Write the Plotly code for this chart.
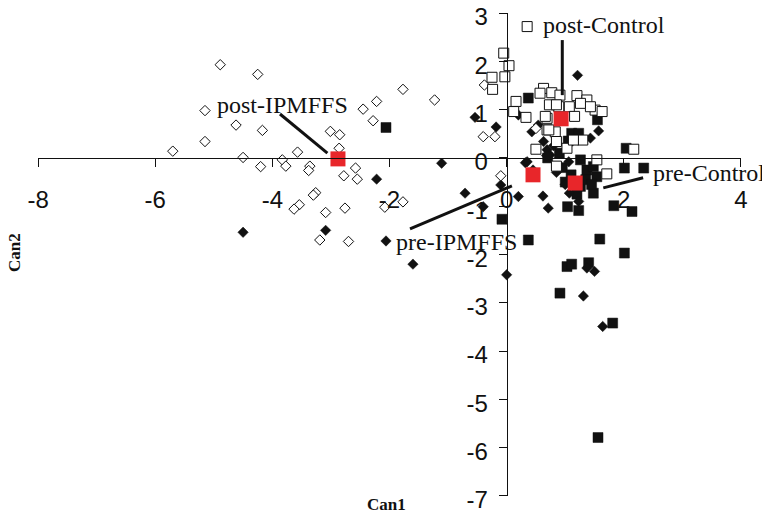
import plotly.graph_objects as go

# post-IPMFFS (open diamonds)
post_ipm_x = [-4.89, -4.25, -5.15, -4.62, -4.17, -5.15, -5.70, -4.50, -4.20, -3.83, -3.77, -3.57,
              -3.36, -3.38, -3.01, -2.85, -2.86, -2.58, -2.78, -2.55, -3.26, -3.30, -3.54, -3.63,
              -3.09, -2.76, -3.19, -2.70, -2.45, -2.22, -2.28, -2.08, -1.77, -1.77, -1.23, -0.38,
              -0.40, -0.20, -0.10, 0.50]
post_ipm_y = [1.93, 1.73, 0.98, 0.68, 0.57, 0.34, 0.14, 0.01, -0.18, -0.04, -0.17, 0.12,
              -0.17, -0.26, 0.55, 0.48, 0.20, -0.21, -0.37, -0.44, -0.72, -0.77, -0.97, -1.06,
              -1.13, -1.04, -1.70, -1.73, 1.01, 1.17, 0.77, -1.02, -0.91, 1.42, 1.20, 1.51,
              0.44, 0.44, -0.37, 0.61]

# pre-IPMFFS (filled diamonds)
pre_ipm_x = [-2.22, -4.50, -3.09, -2.06, -1.60, -1.11, -0.54, -0.18, 0.32, 0.20, 1.21, 1.57,
             0.43, 0.63, 1.43, 0.35, 0.69, 0.74, 1.06, 0.20, 0.62, 0.71, 1.23, 1.07, -0.10,
             -0.40, -0.71, 0.00, 1.37, 1.50, 1.31, 1.64, 0.54, 0.45, 0.85, 1.00, 0.80, 0.68]
pre_ipm_y = [-0.44, -1.54, -1.50, -1.72, -2.20, -0.11, 0.84, 0.64, -0.10, 0.89, 1.71, 0.56,
             0.54, 0.34, 0.41, -0.08, 0.17, 0.06, -0.08, -0.80, -0.79, -1.04, -0.90, -0.73, -0.56,
             -1.01, -0.73, -2.42, -2.28, -2.35, -2.86, -3.49, 0.68, -0.25, -0.30, -0.55, 0.25, 0.05]

# post-Control (open squares)
post_ctl_x = [0.35, -0.05, 0.04, -0.03, -0.25, -0.24, 0.16, 0.12, 0.33, 0.63, 0.57, 0.77,
              0.91, 0.89, 1.07, 0.69, 1.20, 1.37, 1.51, 1.63, 1.43, 0.73, 1.26, 1.16, 0.69,
              0.83, 0.85, 1.03, 1.30, 0.50, 1.54, 1.71, 2.17, 0.85, 0.66, 1.14, 0.85, 0.72]
post_ctl_y = [2.72, 2.17, 1.91, 1.68, 1.67, 1.42, 1.17, 0.96, 0.84, 1.44, 1.34, 1.35,
              1.30, 1.06, 1.06, 0.82, 1.29, 1.20, 0.99, 0.96, 1.06, 1.10, 1.13, 0.86, 0.58,
              0.54, 0.34, 0.20, 0.37, 0.18, -0.04, -0.33, 0.18, -0.17, 0.86, 0.37, 1.10, 0.58]

# pre-Control (filled squares)
pre_ctl_x = [-2.06, 0.37, 1.55, 1.11, 1.23, 1.26, 1.37, 1.48, 1.54, 2.01, 2.34, 1.48, 1.26,
             1.04, 1.23, 1.83, 2.14, -0.08, 0.37, 1.59, 2.01, 1.03, 1.11, 1.40, 0.91, 1.81,
             1.56, 2.04, 0.95, 1.10, 1.20, 1.35, 0.70, 0.90, 1.05, 1.45, 1.00]
pre_ctl_y = [0.63, 1.24, 0.79, 0.51, 0.51, -0.04, -0.25, -0.18, -0.39, -0.21, -0.21, -0.73, -0.59,
             -1.01, -1.09, -0.99, -1.11, -1.27, -1.70, -1.68, -1.97, -2.25, -2.20, -2.17, -2.80, -3.42,
             -5.79, 0.20, -0.20, -0.35, -0.75, -0.45, 0.00, 0.10, 0.35, -0.55, -0.50]

# group centroids (red squares)
cent_names = ["post-IPMFFS", "pre-IPMFFS", "pre-Control", "post-Control"]
cent_x = [-2.88, 0.45, 1.17, 0.93]
cent_y = [-0.02, -0.35, -0.52, 0.81]

x_ticks = [-8, -6, -4, -2, 0, 2, 4]
y_ticks = [3, 2, 1, 0, -1, -2, -3, -4, -5, -6, -7]

fig = go.Figure()

fig.add_trace(go.Scatter(x=pre_ctl_x, y=pre_ctl_y, mode="markers", name="pre-Control",
                         marker=dict(symbol="square", size=10, color="#111111",
                                     line=dict(color="#111111", width=0.5))))
fig.add_trace(go.Scatter(x=pre_ipm_x, y=pre_ipm_y, mode="markers", name="pre-IPMFFS",
                         marker=dict(symbol="diamond", size=8, color="#111111",
                                     line=dict(color="#111111", width=0.5))))
fig.add_trace(go.Scatter(x=post_ipm_x, y=post_ipm_y, mode="markers", name="post-IPMFFS",
                         marker=dict(symbol="diamond", size=8, color="white",
                                     line=dict(color="#111111", width=1))))
fig.add_trace(go.Scatter(x=post_ctl_x, y=post_ctl_y, mode="markers", name="post-Control",
                         marker=dict(symbol="square", size=10, color="white",
                                     line=dict(color="#111111", width=1))))
fig.add_trace(go.Scatter(x=cent_x, y=cent_y, mode="markers", name="centroids",
                         marker=dict(symbol="square", size=15, color="#e8262a",
                                     line=dict(width=0))))

# leader lines
lines = [(-3.87, 0.91, -3.06, 0.10), (-1.65, -1.47, 0.09, -0.58),
         (1.65, -0.62, 2.33, -0.41), (0.95, 2.44, 0.95, 1.30)]
for x0, y0, x1, y1 in lines:
    fig.add_shape(type="line", x0=x0, y0=y0, x1=x1, y1=y1, xref="x", yref="y",
                  line=dict(color="#111111", width=3))

label_pos = [(-3.82, 1.10), (-0.86, -1.74), (3.45, -0.31), (1.66, 2.75)]
for name, (lx, ly) in zip(cent_names, label_pos):
    fig.add_annotation(x=lx, y=ly, text=name, showarrow=False, xref="x", yref="y",
                       xanchor="center", yanchor="middle",
                       font=dict(family="Liberation Serif", size=24, color="#111111"))

# page body has an 8px margin: the figure is drawn 8px right and 8px down
OFF = 8
PX0, PX1, PY0, PY1 = 38, 741, 13, 496   # plot area in screen pixels
W, H = 770 - OFF, 514 - OFF
L, T = PX0 - OFF, PY0 - OFF
R, B = 770 - PX1, 514 - PY1
PW, PH = PX1 - PX0, PY1 - PY0

fig.add_annotation(x=(14 - PX0) / PW, y=(PY1 - 252) / PH, xref="paper", yref="paper",
                   text="<b>Can2</b>", showarrow=False, textangle=-90,
                   xanchor="center", yanchor="middle",
                   font=dict(family="Liberation Serif", size=17, color="#111111"))
fig.add_annotation(x=(386 - PX0) / PW, y=(PY1 - 505) / PH, xref="paper", yref="paper",
                   text="<b>Can1</b>", showarrow=False, xanchor="center", yanchor="middle",
                   font=dict(family="Liberation Serif", size=17, color="#111111"))

fig.update_layout(
    template="none",
    width=W, height=H,
    margin=dict(l=L, r=R, t=T, b=B, autoexpand=False),
    paper_bgcolor="white", plot_bgcolor="white",
    showlegend=False,
    font=dict(family="Liberation Sans", size=24, color="#111111"),
    xaxis=dict(range=[-8.001, 4.001], tickvals=x_ticks, ticktext=[str(v) for v in x_ticks],
               showgrid=False, zeroline=False, showline=True, linecolor="#111111", linewidth=1,
               ticks="outside", ticklen=8, tickcolor="#111111", anchor="free", position=0.7,
               ticklabelstandoff=12, automargin=False, ticklabeloverflow="allow"),
    yaxis=dict(range=[-7.001, 3.001], tickvals=y_ticks, ticktext=[str(v) for v in y_ticks],
               showgrid=False, zeroline=False, showline=True, linecolor="#111111", linewidth=1,
               ticks="outside", ticklen=8, tickcolor="#111111", anchor="free", position=8 / 12,
               ticklabelstandoff=6, ticklabelshift=4, automargin=False,
               ticklabeloverflow="allow"),
)

fig.write_html("out.html")
